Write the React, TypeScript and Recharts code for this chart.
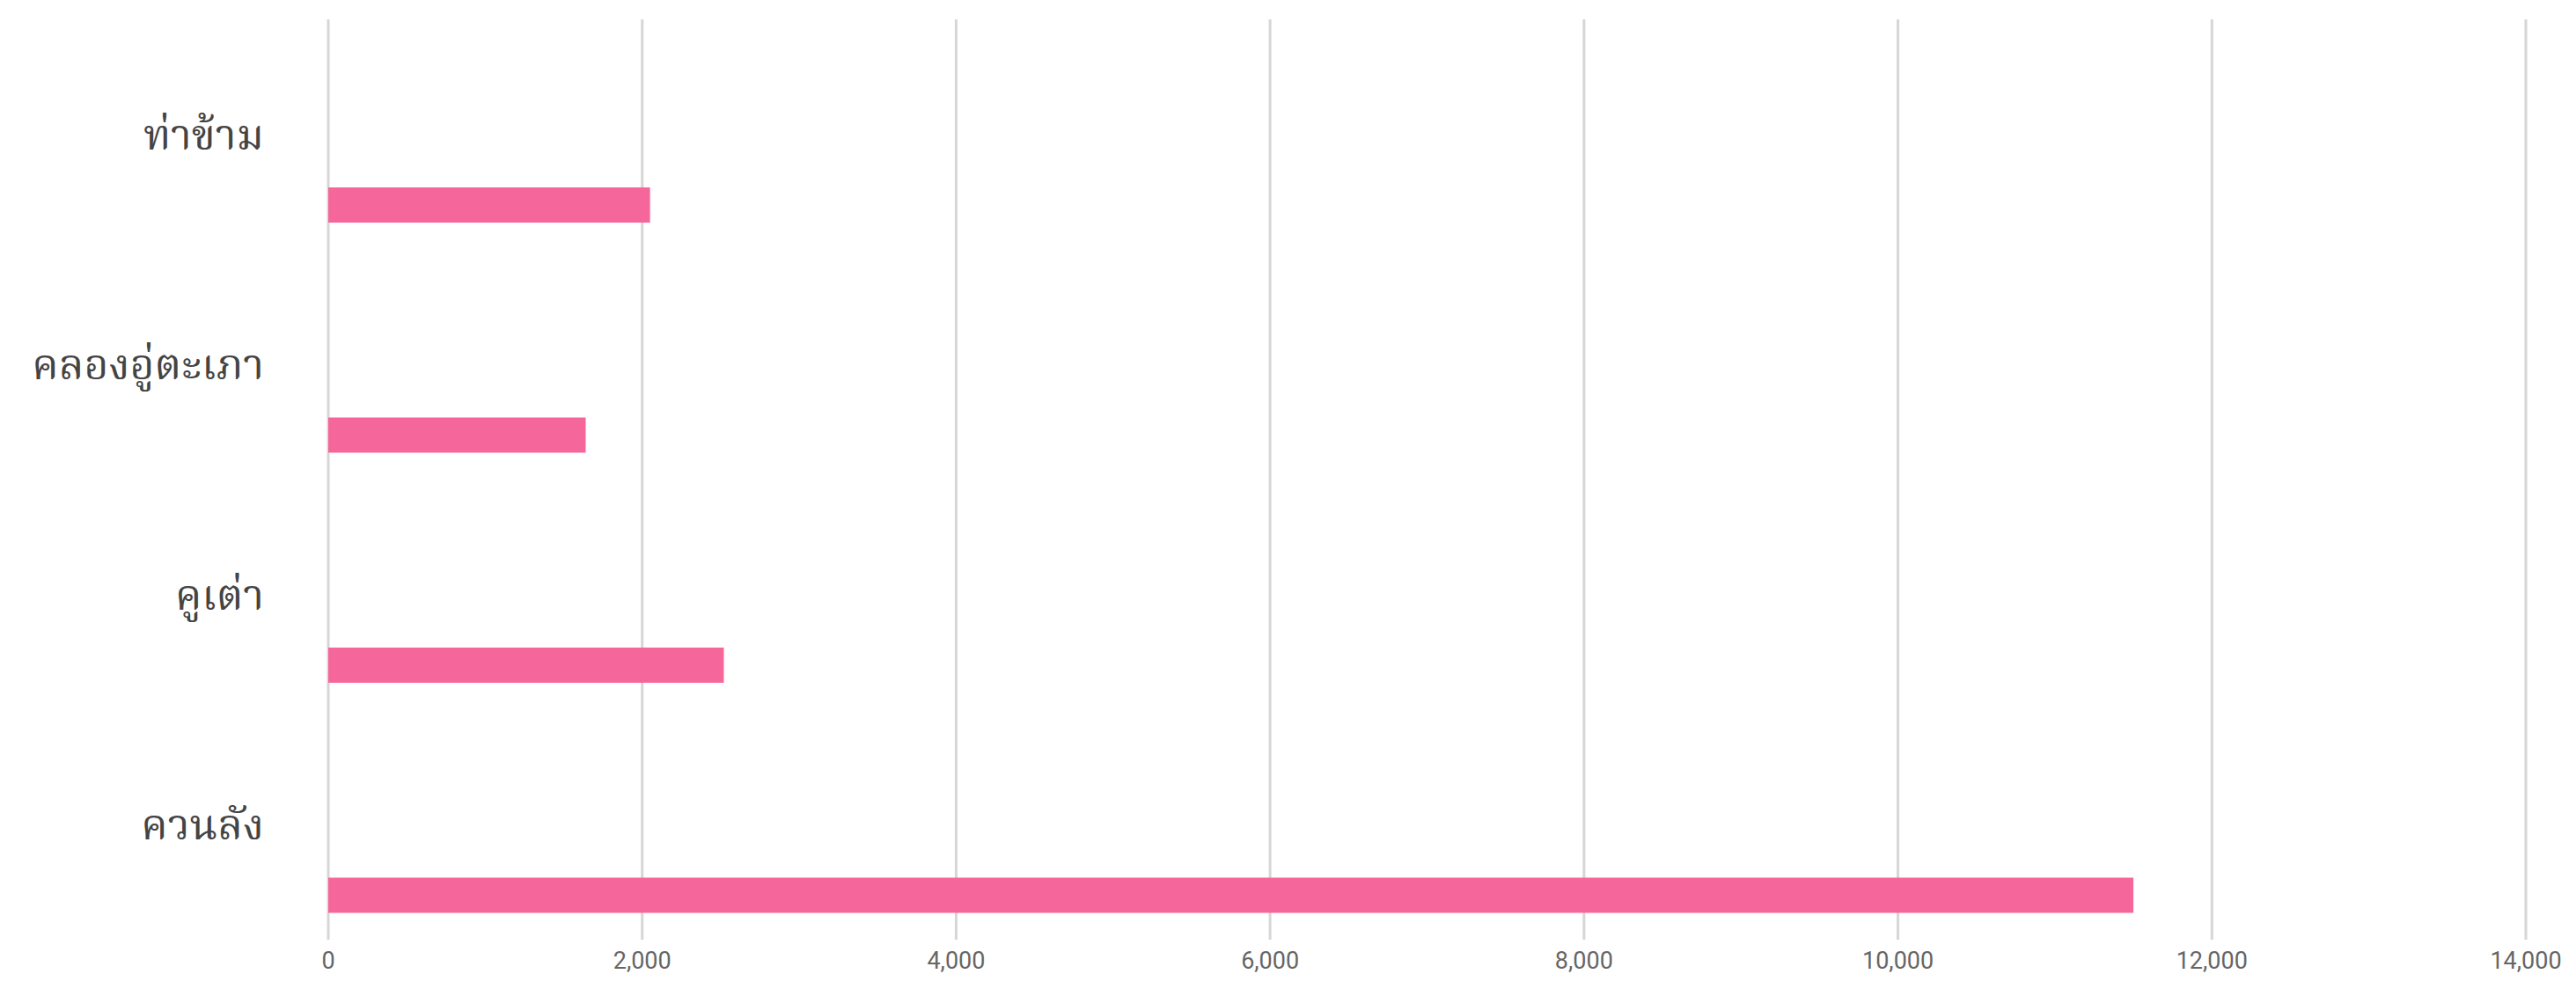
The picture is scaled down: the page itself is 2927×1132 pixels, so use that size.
import { BarChart, Bar, XAxis, YAxis, CartesianGrid } from "recharts";

const districts = ["ท่าข้าม", "คลองอู่ตะเภา", "คูเต่า", "ควนลัง"];
const counts = [2050, 1640, 2520, 11500];
// the source chart leaves an empty slot above each bar
const blankSlot = [null, null, null, null];
const xTicks = [0, 2000, 4000, 6000, 8000, 10000, 12000, 14000];

const rows = districts.map((name, i) => ({ name, blank: blankSlot[i], count: counts[i] }));

const thaiFont = "Kinnari, Norasi, 'Noto Serif Thai', 'Noto Sans Thai Looped', Garuda, serif";

export default function App() {
  return (
    <BarChart
      width={2911}
      height={1124}
      data={rows}
      layout="vertical"
      margin={{ top: 14, right: 49, bottom: 0, left: 0 }}
      barSize={40}
      barGap={120}
    >
      <CartesianGrid horizontal={false} stroke="#d6d6d6" strokeWidth={3} />
      <XAxis
        type="number"
        domain={[0, 14000]}
        ticks={xTicks}
        axisLine={false}
        tickLine={false}
        height={64}
        tickMargin={8}
        tick={{ fontSize: 27, fill: "#666", fontFamily: "Roboto, sans-serif" }}
        tickFormatter={(v) => v.toLocaleString("en-US")}
        interval={0}
      />
      <YAxis
        type="category"
        dataKey="name"
        width={365}
        axisLine={false}
        tickLine={false}
        tickMargin={67}
        tick={{ fontSize: 48, fill: "#444", fontFamily: thaiFont }}
      />
      <Bar dataKey="blank" fill="transparent" isAnimationActive={false} />
      <Bar dataKey="count" fill="#f5669a" isAnimationActive={false} />
    </BarChart>
  );
}
